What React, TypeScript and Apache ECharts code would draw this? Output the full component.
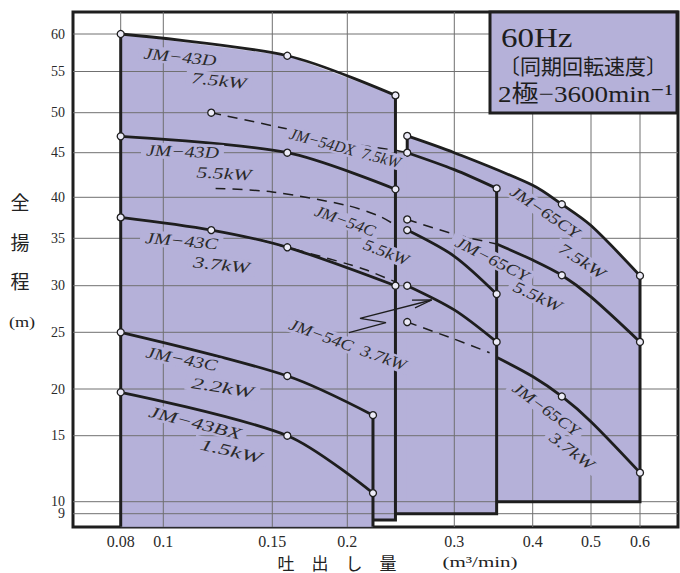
import { useEffect, useRef } from "react";
import * as echarts from "echarts";

// ---- axis ruling of the printed chart (non-uniform scales) ----
const X_TICKS = [0.08, 0.1, 0.15, 0.2, 0.3, 0.4, 0.5, 0.6];
const X_TICK_LABELS = ["0.08", "0.1", "0.15", "0.2", "0.3", "0.4", "0.5", "0.6"];
const X_RULE = [120.7, 163.3, 272.3, 347.3, 454.3, 532.7, 591, 640];
const Y_TICKS = [9, 10, 15, 20, 25, 30, 35, 40, 45, 50, 55, 60];
const Y_TICK_LABELS = ["9", "10", "15", "20", "25", "30", "35", "40", "45", "50", "55", "60"];
const Y_RULE = [513.7, 501.7, 435.7, 389, 332.3, 285.7, 238.3, 197.3, 152.7, 112.7, 71.5, 34];
const X_MIN = 73, X_MAX = 678, Y_MIN = 12, Y_MAX = 527;

// ---- pump curves: flow Q (m3/min), head H (m) ----
const Q_43D_75 = [0.08, 0.16, 0.245];
const H_43D_75 = [60, 57.1, 52.1];
const Q_43D_55 = [0.08, 0.16, 0.245];
const H_43D_55 = [47.05, 45.0, 40.9];
const Q_43C_37 = [0.08, 0.122, 0.16, 0.245];
const H_43C_37 = [37.55, 36.0, 34.05, 30.0];
const Q_43C_22 = [0.08, 0.16, 0.224];
const H_43C_22 = [25.0, 21.15, 17.2];
const Q_43BX_15 = [0.08, 0.16, 0.224];
const H_43BX_15 = [19.65, 15.0, 10.65];

const Q_54DX_75 = [0.256, 0.3, 0.354];
const H_54DX_75 = [45.0, 43.1, 41.0];
const Q_54DX_75_EXT = [0.122, 0.164, 0.2, 0.245, 0.256];
const H_54DX_75_EXT = [50.0, 47.8, 46.2, 45.3, 45.0];
const Q_54C_55 = [0.256, 0.3, 0.354];
const H_54C_55 = [36.0, 33.1, 29.1];
const Q_54C_55_EXT = [0.124, 0.15, 0.2, 0.23, 0.245];
const H_54C_55_EXT = [41.0, 40.6, 39.0, 37.7, 36.6];
const Q_54C_37 = [0.256, 0.3, 0.354];
const H_54C_37 = [30.0, 27.4, 24.15];
const Q_54C_37_EXT = [0.145, 0.2, 0.218, 0.245];
const H_54C_37_EXT = [34.8, 32.3, 31.65, 30.4];

const Q_65CY_75 = [0.256, 0.3, 0.4, 0.45, 0.5, 0.6];
const H_65CY_75 = [47.1, 45.0, 41.35, 39.15, 36.55, 31.05];
const Q_65CY_55 = [0.354, 0.4, 0.45, 0.5, 0.6];
const H_65CY_55 = [34.4, 32.7, 31.1, 28.8, 24.15];
const Q_65CY_55_EXT = [0.256, 0.3, 0.354];
const H_65CY_55_EXT = [37.3, 35.5, 34.4];
const Q_65CY_37 = [0.354, 0.4, 0.45, 0.5, 0.6];
const H_65CY_37 = [22.8, 21.1, 19.2, 16.5, 12.2];
const Q_65CY_37_EXT = [0.256, 0.3, 0.345];
const H_65CY_37_EXT = [26.1, 24.4, 23.2];

// ---- region limits ----
const H_FLOOR = 7.92;
const H_STEP_43 = 8.47;
const H_BASE_54 = 9.0;
const H_BASE_65 = 10.0;
const Q_43_MIN = 0.08;
const Q_43_MAX = 0.245;
const Q_43_SMALL_MAX = 0.224;
const Q_54_MAX = 0.354;
const Q_65_MIN = 0.256;
const Q_65_MAX = 0.6;

// ---- styles ----
const FILL = "#b5b1d9";
const INK = "#1e1e1e";
const GRID_C = "#707070";
const SERIF = "'Liberation Serif', 'Times New Roman', serif";
const CJK = "'Noto Sans CJK JP', sans-serif";

function ruled(v: number, ticks: number[], rule: number[]) {
  const n = ticks.length;
  let i = 0;
  if (v >= ticks[n - 1]) i = n - 2;
  else if (v > ticks[0]) {
    while (i < n - 2 && v > ticks[i + 1]) i++;
  }
  const t = (v - ticks[i]) / (ticks[i + 1] - ticks[i]);
  return rule[i] + t * (rule[i + 1] - rule[i]);
}
const tx = (q: number) => ruled(q, X_TICKS, X_RULE);
const ty = (h: number) => ruled(h, Y_TICKS, Y_RULE);
const zip = (qs: number[], hs: number[]) => qs.map((q, i) => [q, hs[i]]);

function buildOption() {
  const regions = [
    [...zip(Q_43D_75, H_43D_75), [Q_43_MAX, H_STEP_43], [Q_43_SMALL_MAX, H_STEP_43], [Q_43_SMALL_MAX, H_FLOOR], [Q_43_MIN, H_FLOOR]],
    [[Q_43_MAX, H_54DX_75_EXT[3]], ...zip(Q_54DX_75, H_54DX_75), [Q_54_MAX, H_BASE_54], [Q_43_MAX, H_BASE_54]],
    [...zip(Q_65CY_75, H_65CY_75), [Q_65_MAX, H_BASE_65], [Q_65_MIN, H_BASE_65]],
  ];

  const curves = [
    { pts: zip(Q_43D_75, H_43D_75), marks: [0, 1, 2] },
    { pts: zip(Q_43D_55, H_43D_55), marks: [0, 1, 2] },
    { pts: zip(Q_43C_37, H_43C_37), marks: [0, 1, 2, 3] },
    { pts: zip(Q_43C_22, H_43C_22), marks: [0, 1, 2] },
    { pts: zip(Q_43BX_15, H_43BX_15), marks: [0, 1, 2] },
    { pts: zip(Q_54DX_75, H_54DX_75), marks: [0, 2] },
    { pts: zip(Q_54DX_75_EXT, H_54DX_75_EXT), marks: [0], dash: true },
    { pts: zip(Q_54C_55, H_54C_55), marks: [0, 2] },
    { pts: zip(Q_54C_55_EXT, H_54C_55_EXT), marks: [], dash: true },
    { pts: zip(Q_54C_37, H_54C_37), marks: [0, 2] },
    { pts: zip(Q_54C_37_EXT, H_54C_37_EXT), marks: [], dash: true },
    { pts: zip(Q_65CY_75, H_65CY_75), marks: [0, 3, 5] },
    { pts: zip(Q_65CY_55, H_65CY_55), marks: [2, 4] },
    { pts: zip(Q_65CY_55_EXT, H_65CY_55_EXT), marks: [0], dash: true },
    { pts: zip(Q_65CY_37, H_65CY_37), marks: [2, 4] },
    { pts: zip(Q_65CY_37_EXT, H_65CY_37_EXT), marks: [0], dash: true },
  ];

  const outlines = [
    [[Q_43_MIN, H_FLOOR], [Q_43_MIN, H_43D_75[0]]],
    [[Q_43_MAX, H_43D_75[2]], [Q_43_MAX, H_STEP_43], [Q_43_SMALL_MAX, H_STEP_43]],
    [[Q_43_SMALL_MAX, H_43C_22[2]], [Q_43_SMALL_MAX, H_FLOOR]],
    [[Q_54_MAX, H_54DX_75[2]], [Q_54_MAX, H_BASE_54], [Q_43_MAX, H_BASE_54]],
    [[Q_65_MIN, H_54DX_75[0]], [Q_65_MIN, H_65CY_75[0]]],
    [[Q_65_MAX, H_65CY_75[5]], [Q_65_MAX, H_BASE_65], [Q_54_MAX, H_BASE_65]],
  ];

  const markers: number[][] = [];
  curves.forEach((c) => c.marks.forEach((i) => markers.push([tx(c.pts[i][0]), ty(c.pts[i][1])])));

  const series: any[] = [];
  regions.forEach((pts) =>
    series.push({
      type: "custom",
      silent: true,
      z: 1,
      data: [[X_MIN, Y_MIN]],
      renderItem: (_p: any, api: any) => ({
        type: "polygon",
        shape: { points: pts.map(([q, h]) => api.coord([tx(q), ty(h)])) },
        style: { fill: FILL, stroke: FILL, lineWidth: 0.5 },
      }),
    })
  );
  // grid rulings
  series.push({
    type: "custom",
    silent: true,
    z: 2,
    data: X_TICKS.map((v) => [tx(v), Y_MIN]),
    renderItem: (params: any, api: any) => {
      const cs = params.coordSys;
      const x = api.coord([api.value(0), Y_MIN])[0];
      return { type: "line", shape: { x1: x, y1: cs.y, x2: x, y2: cs.y + cs.height }, style: { stroke: GRID_C, lineWidth: 1 } };
    },
  });
  series.push({
    type: "custom",
    silent: true,
    z: 2,
    data: Y_TICKS.map((v) => [X_MIN, ty(v)]),
    renderItem: (params: any, api: any) => {
      const cs = params.coordSys;
      const y = api.coord([X_MIN, api.value(1)])[1];
      return { type: "line", shape: { x1: cs.x, y1: y, x2: cs.x + cs.width, y2: y }, style: { stroke: GRID_C, lineWidth: 1 } };
    },
  });
  curves.forEach((c) =>
    series.push({
      type: "line",
      silent: true,
      z: 3,
      data: c.pts.map(([q, h]) => [tx(q), ty(h)]),
      smooth: 0.3,
      showSymbol: false,
      symbol: "none",
      lineStyle: c.dash
        ? { color: INK, width: 1.5, type: [10, 7] }
        : { color: INK, width: 2.8, type: "solid" },
    })
  );
  outlines.forEach((pts) =>
    series.push({
      type: "line",
      silent: true,
      z: 3,
      data: pts.map(([q, h]) => [tx(q), ty(h)]),
      showSymbol: false,
      symbol: "none",
      lineStyle: { color: INK, width: 3, type: "solid", join: "miter" },
    })
  );
  series.push({
    type: "scatter",
    silent: true,
    z: 5,
    data: markers,
    symbol: "circle",
    symbolSize: 7,
    itemStyle: { color: "#ecebf7", borderColor: INK, borderWidth: 1.3, opacity: 1 },
  });

  const curveLabels: [string, number, number, number, number][] = [
    ["JM−43D", 180, 57, 6, 1.24],
    ["7.5kW", 219, 80.5, 6, 1.36],
    ["JM−43D", 182.5, 151.5, 2, 1.24],
    ["5.5kW", 224, 173.5, 3, 1.36],
    ["JM−54DX  7.5kW", 345, 148, 15, 0.98],
    ["JM−43C", 181.5, 241, 5, 1.26],
    ["3.7kW", 221.5, 265, 6, 1.4],
    ["JM−54C", 345, 221, 20, 1.09],
    ["5.5kW", 386, 252.5, 21, 1.16],
    ["JM−43C", 181.5, 359, 11, 1.25],
    ["2.2kW", 222.5, 387.5, 9, 1.55],
    ["JM−43BX", 195, 422.5, 14, 1.42],
    ["1.5kW", 231, 451, 13, 1.55],
    ["JM−54C  3.7kW", 347.5, 345, 20, 1.16],
    ["JM−65CY", 545, 212, 34, 1.2],
    ["7.5kW", 582, 261, 33, 1.28],
    ["JM−65CY", 492, 259, 27, 1.2],
    ["5.5kW", 537.5, 296.5, 25, 1.27],
    ["JM−65CY", 546, 409, 36, 1.18],
    ["3.7kW", 572, 451, 37, 1.27],
  ];

  const graphics: any[] = curveLabels.map(([text, x, y, deg, sx]) => ({
    type: "text",
    x,
    y,
    z: 100,
    rotation: (-deg * Math.PI) / 180,
    scaleX: sx,
    silent: true,
    style: {
      text,
      font: `italic 16px ${SERIF}`,
      fill: "#2a2a2a",
      align: "center",
      verticalAlign: "middle",
      backgroundColor: FILL,
      padding: [0, 4],
    },
  }));

  graphics.push(
    { type: "polyline", z: 101, silent: true, shape: { points: [[349, 332.7], [386, 322.7], [360, 318.3], [431.7, 300]] }, style: { stroke: INK, lineWidth: 1.3, fill: "none" } },
    { type: "polyline", z: 101, silent: true, shape: { points: [[412, 300.2], [431.7, 300], [415, 307.8]] }, style: { stroke: INK, lineWidth: 1.3, fill: "none" } },
    // title box
    { type: "rect", z: 100, silent: true, shape: { x: 490, y: 12, width: 187, height: 101 }, style: { fill: FILL, stroke: INK, lineWidth: 3 } },
    { type: "text", z: 101, x: 501, y: 38, scaleX: 1.18, silent: true, style: { text: "60Hz", font: `28px ${SERIF}`, fill: "#1e1e1e", align: "left", verticalAlign: "middle" } },
    { type: "text", z: 101, x: 583, y: 65, silent: true, style: { text: "〔同期回転速度〕", font: `21px ${CJK}`, fill: "#1e1e1e", align: "center", verticalAlign: "middle" } },
    { type: "text", z: 101, x: 498, y: 94, scaleX: 1.13, silent: true, style: { text: "2極−3600min⁻¹", font: `24px 'Liberation Serif', 'DejaVu Serif', ${CJK}`, fill: "#1e1e1e", align: "left", verticalAlign: "middle" } },
    // axis names
    { type: "text", z: 100, x: 20, y: 241, silent: true, style: { text: "全\n揚\n程", font: `19px ${CJK}`, lineHeight: 39.5, fill: "#222", align: "center", verticalAlign: "middle" } },
    { type: "text", z: 100, x: 22, y: 323, scaleX: 1.3, silent: true, style: { text: "(m)", font: `14px ${SERIF}`, fill: "#222", align: "center", verticalAlign: "middle" } },
    { type: "text", z: 100, x: 337, y: 562, silent: true, style: { text: "吐　出　し　量", font: `17px ${CJK}`, lineHeight: 17, fill: "#222", align: "center", verticalAlign: "middle" } },
    { type: "text", z: 100, x: 480, y: 562, scaleX: 1.5, silent: true, style: { text: "(m³/min)", font: `14px ${SERIF}`, lineHeight: 14, fill: "#222", align: "center", verticalAlign: "middle" } }
  );

  const findLabel = (v: number, ticks: number[], f: (n: number) => number, labels: string[]) => {
    const i = ticks.findIndex((t) => Math.abs(f(t) - v) < 0.01);
    return i >= 0 ? labels[i] : "";
  };

  const yLabelStyle = {
    formatter: (v: number) => findLabel(v, Y_TICKS, ty, Y_TICK_LABELS),
    fontFamily: SERIF,
    fontSize: 14,
    lineHeight: 12,
    color: "#2a2a2a",
    margin: 8,
    hideOverlap: false,
    showMinLabel: true,
    showMaxLabel: true,
    interval: 0,
  };
  const yAxisBase = {
    type: "value",
    inverse: true,
    min: Y_MIN,
    max: Y_MAX,
    position: "left",
    offset: 0,
    axisLine: { show: false },
    axisTick: { show: false },
    splitLine: { show: false },
  };

  return {
    animation: false,
    backgroundColor: "#ffffff",
    grid: {
      left: X_MIN,
      right: 680 - X_MAX,
      top: Y_MIN,
      bottom: 573 - Y_MAX,
      show: true,
      borderColor: INK,
      borderWidth: 3,
      backgroundColor: "transparent",
      containLabel: false,
      outerBoundsMode: "none",
    },
    xAxis: {
      type: "value",
      min: X_MIN,
      max: X_MAX,
      axisLine: { show: false },
      axisTick: { show: false },
      splitLine: { show: false },
      axisLabel: {
        customValues: X_TICKS.map(tx),
        formatter: (v: number) => findLabel(v, X_TICKS, tx, X_TICK_LABELS),
        fontFamily: SERIF,
        fontSize: 16,
        lineHeight: 14,
        color: "#2a2a2a",
        margin: 7,
        hideOverlap: false,
        showMinLabel: true,
        showMaxLabel: true,
        interval: 0,
      },
    },
    // two label sets on the same scale: the tightly packed 9 / 10 pair would otherwise be pruned
    yAxis: [
      { ...yAxisBase, axisLabel: { ...yLabelStyle, customValues: Y_TICKS.filter((t) => t >= 10).map(ty) } },
      { ...yAxisBase, axisLabel: { ...yLabelStyle, customValues: Y_TICKS.filter((t) => t < 10).map(ty) } },
    ],
    series,
    graphic: { elements: graphics },
  };
}

export default function App() {
  const ref = useRef<HTMLDivElement>(null);
  useEffect(() => {
    if (!ref.current) return;
    const chart = echarts.init(ref.current, null, { renderer: "svg" });
    chart.setOption(buildOption() as any);
    return () => chart.dispose();
  }, []);
  return <div ref={ref} style={{ position: "absolute", left: 0, top: 0, width: 680, height: 573 }} />;
}
